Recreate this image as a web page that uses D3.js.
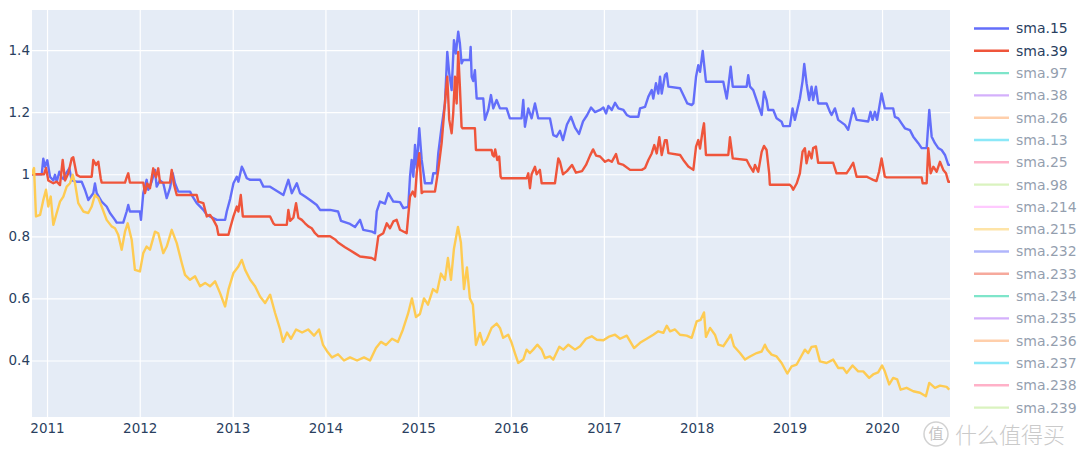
<!DOCTYPE html>
<html>
<head>
<meta charset="utf-8">
<script src="https://cdn.jsdelivr.net/npm/d3@7"></script>
<style>
  body { margin: 0; background: #fff; }
  svg { display: block; }
  svg text { font-family: "DejaVu Sans", Verdana, sans-serif; }
</style>
</head>
<body>
<svg id="chart" width="1080" height="455"></svg>
<script>
// values are [decimal year, value]
var sma15 = [
  [2010.838,1.0],[2010.943,1.0],[2010.960,1.05],[2010.978,1.024],[2011.003,1.045],[2011.032,0.992],
  [2011.068,0.98],[2011.086,0.998],[2011.105,0.976],[2011.133,1.008],[2011.158,0.99],[2011.176,0.985],
  [2011.194,0.998],[2011.240,1.019],[2011.266,0.98],[2011.320,0.976],[2011.374,0.976],[2011.409,0.95],
  [2011.445,0.917],[2011.499,0.939],[2011.517,0.97],[2011.536,0.939],[2011.589,0.912],[2011.643,0.896],
  [2011.679,0.875],[2011.733,0.853],[2011.751,0.844],[2011.822,0.844],[2011.859,0.88],[2011.876,0.901],
  [2011.894,0.88],[2012.002,0.88],[2012.013,0.853],[2012.038,0.939],[2012.074,0.982],[2012.092,0.95],
  [2012.128,0.976],[2012.164,1.014],[2012.182,0.96],[2012.218,0.98],[2012.253,0.971],[2012.290,0.923],
  [2012.325,0.955],[2012.355,1.003],[2012.379,0.971],[2012.415,0.944],[2012.541,0.944],[2012.559,0.933],
  [2012.613,0.907],[2012.684,0.885],[2012.721,0.869],[2012.829,0.853],[2012.918,0.853],[2012.936,0.88],
  [2012.972,0.92],[2013.008,0.971],[2013.044,0.992],[2013.061,0.976],[2013.098,1.024],[2013.115,1.014],
  [2013.152,0.987],[2013.188,0.982],[2013.295,0.982],[2013.331,0.96],[2013.403,0.96],[2013.546,0.933],
  [2013.600,0.982],[2013.637,0.939],[2013.691,0.971],[2013.726,0.939],[2013.780,0.928],[2013.834,0.917],
  [2013.906,0.901],[2013.942,0.885],[2014.050,0.885],[2014.136,0.88],[2014.168,0.85],[2014.265,0.84],
  [2014.319,0.83],[2014.373,0.853],[2014.408,0.821],[2014.502,0.815],[2014.535,0.81],[2014.553,0.88],
  [2014.588,0.912],[2014.642,0.905],[2014.678,0.939],[2014.732,0.912],[2014.804,0.91],[2014.840,0.891],
  [2014.893,0.895],[2014.912,0.992],[2014.930,1.046],[2014.948,0.992],[2014.966,1.094],[2014.984,1.02],
  [2015.012,1.148],[2015.038,1.046],[2015.073,0.971],[2015.146,0.971],[2015.163,1.003],[2015.200,1.003],
  [2015.217,1.068],[2015.253,1.153],[2015.289,1.228],[2015.314,1.394],[2015.335,1.325],[2015.361,1.271],
  [2015.386,1.432],[2015.407,1.389],[2015.432,1.459],[2015.450,1.421],[2015.468,1.357],[2015.486,1.368],
  [2015.558,1.368],[2015.566,1.41],[2015.577,1.314],[2015.594,1.30],[2015.612,1.335],[2015.631,1.244],
  [2015.702,1.244],[2015.720,1.175],[2015.756,1.207],[2015.785,1.255],[2015.810,1.212],[2015.846,1.239],
  [2015.882,1.212],[2015.954,1.212],[2015.989,1.18],[2016.115,1.18],[2016.133,1.239],[2016.151,1.153],
  [2016.187,1.212],[2016.223,1.18],[2016.259,1.228],[2016.294,1.18],[2016.420,1.18],[2016.456,1.126],
  [2016.492,1.121],[2016.528,1.14],[2016.560,1.11],[2016.603,1.16],[2016.646,1.185],[2016.690,1.15],
  [2016.733,1.13],[2016.776,1.17],[2016.819,1.19],[2016.862,1.215],[2016.905,1.2],[2016.959,1.207],
  [2016.995,1.215],[2017.024,1.196],[2017.049,1.22],[2017.085,1.207],[2017.121,1.23],[2017.157,1.212],
  [2017.211,1.207],[2017.247,1.191],[2017.283,1.185],[2017.372,1.185],[2017.390,1.212],[2017.444,1.217],
  [2017.480,1.25],[2017.516,1.271],[2017.533,1.244],[2017.562,1.293],[2017.587,1.26],[2017.606,1.314],
  [2017.624,1.26],[2017.659,1.319],[2017.678,1.325],[2017.696,1.282],[2017.822,1.277],[2017.857,1.255],
  [2017.900,1.228],[2017.947,1.223],[2017.965,1.228],[2017.994,1.314],[2018.018,1.351],[2018.037,1.33],
  [2018.066,1.397],[2018.080,1.357],[2018.101,1.298],[2018.288,1.298],[2018.306,1.271],[2018.325,1.244],
  [2018.342,1.282],[2018.368,1.346],[2018.390,1.282],[2018.540,1.282],[2018.557,1.319],[2018.576,1.282],
  [2018.611,1.271],[2018.665,1.223],[2018.702,1.191],[2018.727,1.266],[2018.755,1.239],[2018.773,1.207],
  [2018.827,1.207],[2018.863,1.18],[2018.917,1.169],[2018.934,1.155],[2019.006,1.155],[2019.035,1.212],
  [2019.060,1.175],[2019.114,1.244],[2019.143,1.30],[2019.161,1.355],[2019.186,1.293],[2019.214,1.239],
  [2019.240,1.282],[2019.257,1.239],[2019.287,1.282],[2019.311,1.228],[2019.402,1.228],[2019.438,1.201],
  [2019.456,1.191],[2019.492,1.212],[2019.527,1.175],[2019.600,1.159],[2019.635,1.143],[2019.689,1.212],
  [2019.726,1.175],[2019.851,1.17],[2019.876,1.201],[2019.898,1.175],[2019.923,1.201],[2019.947,1.175],
  [2019.995,1.26],[2020.030,1.212],[2020.120,1.212],[2020.138,1.185],[2020.174,1.18],[2020.210,1.164],
  [2020.246,1.148],[2020.300,1.142],[2020.336,1.121],[2020.390,1.1],[2020.426,1.084],[2020.480,1.084],
  [2020.508,1.207],[2020.534,1.121],[2020.569,1.1],[2020.605,1.084],[2020.641,1.078],[2020.677,1.062],
  [2020.713,1.03],[2020.731,1.03]
];

var sma39 = [
  [2010.838,1.0],[2010.968,1.0],[2010.989,1.02],[2011.014,0.98],[2011.068,0.971],[2011.105,0.976],
  [2011.140,0.965],[2011.169,1.046],[2011.194,0.98],[2011.230,1.003],[2011.266,1.051],[2011.283,1.055],
  [2011.320,0.998],[2011.356,0.992],[2011.482,0.992],[2011.499,1.046],[2011.528,1.03],[2011.553,1.04],
  [2011.579,0.987],[2011.589,0.973],[2011.841,0.973],[2011.859,0.99],[2011.876,1.003],[2011.894,0.973],
  [2012.038,0.973],[2012.056,0.939],[2012.081,0.97],[2012.110,0.955],[2012.145,1.019],[2012.175,0.99],
  [2012.199,1.019],[2012.218,0.973],[2012.325,0.973],[2012.344,1.014],[2012.369,0.966],[2012.398,0.933],
  [2012.613,0.933],[2012.630,0.912],[2012.684,0.907],[2012.721,0.864],[2012.756,0.869],[2012.792,0.853],
  [2012.829,0.832],[2012.846,0.805],[2012.954,0.805],[2012.972,0.826],[2013.008,0.864],[2013.044,0.896],
  [2013.061,0.88],[2013.087,0.933],[2013.109,0.864],[2013.403,0.864],[2013.438,0.842],[2013.457,0.837],
  [2013.583,0.837],[2013.600,0.885],[2013.619,0.85],[2013.654,0.86],[2013.683,0.907],[2013.708,0.86],
  [2013.745,0.853],[2013.780,0.842],[2013.816,0.832],[2013.852,0.826],[2013.888,0.81],[2013.924,0.8],
  [2014.050,0.8],[2014.104,0.79],[2014.136,0.78],[2014.211,0.765],[2014.265,0.755],[2014.319,0.745],
  [2014.373,0.735],[2014.499,0.73],[2014.535,0.724],[2014.570,0.8],[2014.624,0.81],[2014.661,0.842],
  [2014.696,0.826],[2014.732,0.848],[2014.768,0.853],[2014.804,0.821],[2014.876,0.81],[2014.912,0.928],
  [2014.941,0.944],[2014.966,0.928],[2014.984,1.003],[2015.012,1.068],[2015.038,0.939],[2015.056,0.944],
  [2015.181,0.944],[2015.217,1.014],[2015.253,1.1],[2015.300,1.271],[2015.314,1.314],[2015.335,1.175],
  [2015.361,1.132],[2015.378,1.196],[2015.397,1.314],[2015.415,1.228],[2015.432,1.394],[2015.450,1.282],
  [2015.468,1.153],[2015.479,1.148],[2015.612,1.148],[2015.623,1.078],[2015.792,1.078],[2015.802,1.062],
  [2015.817,1.057],[2015.831,1.08],[2015.853,1.046],[2015.874,1.057],[2015.889,0.992],[2015.900,0.987],
  [2016.169,0.987],[2016.187,1.003],[2016.205,0.955],[2016.223,1.0],[2016.259,1.024],[2016.277,1.0],
  [2016.312,1.014],[2016.331,0.971],[2016.474,0.971],[2016.510,1.051],[2016.528,1.04],[2016.560,1.0],
  [2016.603,1.01],[2016.657,1.03],[2016.700,1.005],[2016.765,1.01],[2016.808,1.03],[2016.851,1.06],
  [2016.884,1.08],[2016.916,1.06],[2016.959,1.057],[2017.013,1.04],[2017.049,1.046],[2017.085,1.04],
  [2017.131,1.065],[2017.157,1.035],[2017.211,1.03],[2017.283,1.014],[2017.409,1.014],[2017.444,1.02],
  [2017.480,1.046],[2017.516,1.067],[2017.544,1.094],[2017.570,1.067],[2017.598,1.119],[2017.624,1.062],
  [2017.659,1.11],[2017.678,1.11],[2017.696,1.068],[2017.822,1.062],[2017.857,1.046],[2017.911,1.025],
  [2017.965,1.014],[2017.994,1.089],[2018.018,1.11],[2018.037,1.083],[2018.066,1.142],[2018.080,1.164],
  [2018.101,1.062],[2018.342,1.062],[2018.360,1.119],[2018.390,1.051],[2018.540,1.046],[2018.576,1.025],
  [2018.611,1.008],[2018.630,1.03],[2018.665,1.008],[2018.702,1.072],[2018.727,1.091],[2018.755,1.078],
  [2018.783,1.003],[2018.790,0.966],[2019.006,0.966],[2019.025,0.96],[2019.042,0.95],[2019.079,0.97],
  [2019.114,1.003],[2019.143,1.073],[2019.168,1.084],[2019.186,1.035],[2019.214,1.073],[2019.240,1.051],
  [2019.257,1.084],[2019.287,1.089],[2019.311,1.037],[2019.473,1.037],[2019.509,1.003],[2019.617,1.003],
  [2019.653,1.019],[2019.689,1.037],[2019.726,0.992],[2019.833,0.992],[2019.869,0.987],[2019.904,0.982],
  [2019.940,0.978],[2019.968,1.008],[2019.995,1.051],[2020.030,0.992],[2020.049,0.99],[2020.426,0.99],
  [2020.437,0.971],[2020.480,0.971],[2020.497,1.084],[2020.523,1.003],[2020.552,1.024],[2020.588,1.008],
  [2020.623,1.04],[2020.659,1.014],[2020.688,1.003],[2020.713,0.976],[2020.731,0.976]
];

var sma215 = [
  [2010.835,1.0],[2010.860,1.02],[2010.881,0.864],[2010.925,0.869],[2010.960,0.917],[2010.989,0.95],
  [2011.014,0.896],[2011.040,0.928],[2011.068,0.837],[2011.105,0.876],[2011.140,0.912],[2011.176,0.928],
  [2011.212,0.96],[2011.248,0.971],[2011.277,0.998],[2011.302,0.971],[2011.337,0.907],[2011.391,0.88],
  [2011.445,0.875],[2011.482,0.896],[2011.517,0.933],[2011.553,0.923],[2011.589,0.896],[2011.643,0.853],
  [2011.697,0.832],[2011.733,0.826],[2011.768,0.805],[2011.805,0.757],[2011.841,0.815],[2011.870,0.842],
  [2011.913,0.789],[2011.948,0.692],[2012.002,0.687],[2012.038,0.746],[2012.074,0.767],[2012.110,0.757],
  [2012.164,0.815],[2012.199,0.81],[2012.253,0.746],[2012.290,0.767],[2012.344,0.821],[2012.398,0.778],
  [2012.452,0.714],[2012.487,0.676],[2012.541,0.66],[2012.595,0.671],[2012.649,0.639],[2012.703,0.65],
  [2012.756,0.639],[2012.810,0.655],[2012.864,0.617],[2012.918,0.574],[2012.954,0.628],[2013.008,0.682],
  [2013.061,0.703],[2013.098,0.724],[2013.134,0.692],[2013.188,0.66],[2013.241,0.639],[2013.295,0.606],
  [2013.349,0.585],[2013.403,0.612],[2013.457,0.553],[2013.511,0.50],[2013.543,0.46],[2013.586,0.49],
  [2013.629,0.47],[2013.683,0.50],[2013.748,0.49],[2013.813,0.50],[2013.877,0.48],[2013.931,0.50],
  [2013.974,0.45],[2014.017,0.43],[2014.071,0.41],[2014.136,0.42],[2014.200,0.40],[2014.265,0.41],
  [2014.341,0.40],[2014.416,0.41],[2014.481,0.40],[2014.545,0.44],[2014.599,0.46],[2014.653,0.45],
  [2014.718,0.47],[2014.782,0.46],[2014.836,0.50],[2014.890,0.55],[2014.933,0.60],[2014.976,0.54],
  [2015.019,0.55],[2015.063,0.60],[2015.106,0.58],[2015.160,0.63],[2015.203,0.62],[2015.246,0.68],
  [2015.289,0.66],[2015.321,0.73],[2015.354,0.66],[2015.386,0.76],[2015.429,0.83],[2015.461,0.78],
  [2015.494,0.63],[2015.526,0.70],[2015.558,0.60],[2015.590,0.58],[2015.623,0.45],[2015.644,0.47],
  [2015.666,0.489],[2015.702,0.451],[2015.738,0.467],[2015.792,0.505],[2015.846,0.519],[2015.882,0.505],
  [2015.917,0.473],[2015.971,0.483],[2016.008,0.457],[2016.043,0.424],[2016.079,0.392],[2016.133,0.403],
  [2016.169,0.435],[2016.205,0.424],[2016.240,0.435],[2016.284,0.451],[2016.331,0.435],[2016.367,0.408],
  [2016.420,0.413],[2016.456,0.403],[2016.521,0.444],[2016.564,0.435],[2016.618,0.451],[2016.690,0.435],
  [2016.744,0.446],[2016.808,0.47],[2016.870,0.478],[2016.924,0.467],[2016.995,0.465],[2017.049,0.476],
  [2017.121,0.483],[2017.175,0.47],[2017.247,0.48],[2017.326,0.44],[2017.390,0.457],[2017.462,0.47],
  [2017.533,0.483],[2017.587,0.494],[2017.641,0.489],[2017.678,0.512],[2017.714,0.494],[2017.767,0.5],
  [2017.821,0.483],[2017.893,0.48],[2017.947,0.473],[2018.001,0.526],[2018.044,0.531],[2018.080,0.555],
  [2018.101,0.476],[2018.145,0.505],[2018.198,0.483],[2018.234,0.451],[2018.288,0.446],[2018.342,0.47],
  [2018.368,0.483],[2018.403,0.446],[2018.468,0.424],[2018.522,0.403],[2018.576,0.413],[2018.648,0.424],
  [2018.702,0.429],[2018.737,0.451],[2018.762,0.435],[2018.809,0.419],[2018.863,0.413],[2018.917,0.392],
  [2018.978,0.358],[2019.025,0.381],[2019.079,0.387],[2019.133,0.416],[2019.168,0.435],[2019.204,0.424],
  [2019.240,0.444],[2019.287,0.446],[2019.330,0.397],[2019.402,0.392],[2019.473,0.403],[2019.527,0.376],
  [2019.581,0.376],[2019.618,0.36],[2019.682,0.384],[2019.743,0.365],[2019.797,0.365],[2019.861,0.344],
  [2019.904,0.355],[2019.958,0.362],[2020.001,0.384],[2020.030,0.365],[2020.077,0.323],[2020.120,0.344],
  [2020.163,0.339],[2020.200,0.306],[2020.264,0.312],[2020.336,0.301],[2020.408,0.296],[2020.472,0.285],
  [2020.508,0.328],[2020.569,0.312],[2020.623,0.319],[2020.695,0.315],[2020.723,0.306]
];

// legend order, colours (plotly defaults) and which traces are switched on
var legendNames = ['sma.15','sma.39','sma.97','sma.38','sma.26','sma.13','sma.25','sma.98','sma.214',
  'sma.215','sma.232','sma.233','sma.234','sma.235','sma.236','sma.237','sma.238','sma.239'];
var legendColors = ['#636efa','#EF553B','#00cc96','#ab63fa','#FFA15A','#19d3f3','#FF6692','#B6E880','#FF97FF',
  '#FECB52','#636efa','#EF553B','#00cc96','#ab63fa','#FFA15A','#19d3f3','#FF6692','#B6E880'];
var legendOn = ['sma.15','sma.39'];

var yTicks = [0.4, 0.6, 0.8, 1, 1.2, 1.4];
var xTickYears = [2011,2012,2013,2014,2015,2016,2017,2018,2019,2020];
var xRange = [2010.838, 2020.731];
var yRange = [0.218, 1.529];

var traces = [
  {name: 'sma.15', color: '#636efa', data: sma15},
  {name: 'sma.39', color: '#EF553B', data: sma39},
  {name: 'sma.215', color: '#FECB52', data: sma215}
];

function yearToDate(y) {
  var yr = Math.floor(y);
  var a = new Date(yr, 0, 1), b = new Date(yr + 1, 0, 1);
  return new Date(+a + (y - yr) * (b - a));
}

var FONT = '"DejaVu Sans", Verdana, sans-serif';
var svg = d3.select('#chart');
var plot = {left: 32, top: 10, right: 950, bottom: 417};

var x = d3.scaleTime()
  .domain(xRange.map(yearToDate))
  .range([plot.left, plot.right]);
var y = d3.scaleLinear()
  .domain(yRange)
  .range([plot.bottom, plot.top]);

svg.append('rect')
  .attr('x', plot.left).attr('y', plot.top)
  .attr('width', plot.right - plot.left).attr('height', plot.bottom - plot.top)
  .attr('fill', '#E5ECF6');

svg.append('clipPath').attr('id', 'clip')
  .append('rect')
  .attr('x', plot.left).attr('y', plot.top)
  .attr('width', plot.right - plot.left).attr('height', plot.bottom - plot.top);

// grid + axes
var xAxis = d3.axisBottom(x)
  .tickValues(xTickYears.map(function(d){ return new Date(d, 0, 1); }))
  .tickFormat(d3.timeFormat('%Y'))
  .tickSize(-(plot.bottom - plot.top))
  .tickPadding(6);
var gx = svg.append('g')
  .attr('transform', 'translate(0,' + plot.bottom + ')')
  .call(xAxis);

var yAxis = d3.axisLeft(y)
  .tickValues(yTicks)
  .tickFormat(d3.format('~g'))
  .tickSize(-(plot.right - plot.left))
  .tickPadding(2);
var gy = svg.append('g')
  .attr('transform', 'translate(' + plot.left + ',0)')
  .call(yAxis);

[gx, gy].forEach(function(g){
  g.attr('font-family', FONT).attr('font-size', 13.5);
  g.select('.domain').remove();
  g.selectAll('line').attr('stroke', '#fff').attr('stroke-width', 1.2);
  g.selectAll('text').attr('fill', '#2a3f5f');
});

// series
var line = d3.line()
  .x(function(d){ return x(yearToDate(d[0])); })
  .y(function(d){ return y(d[1]); });

svg.append('g').attr('clip-path', 'url(#clip)')
  .selectAll('path')
  .data(traces)
  .enter().append('path')
  .attr('d', function(d){ return line(d.data); })
  .attr('fill', 'none')
  .attr('stroke', function(d){ return d.color; })
  .attr('stroke-width', 2.4)
  .attr('stroke-linejoin', 'round');

// legend
var leg = svg.append('g').attr('transform', 'translate(974,28.5)')
  .attr('font-family', FONT).attr('font-size', 14);
var item = leg.selectAll('g')
  .data(legendNames)
  .enter().append('g')
  .attr('transform', function(d, i){ return 'translate(0,' + (i * 22.3) + ')'; })
  .attr('opacity', function(d){ return legendOn.indexOf(d) >= 0 ? 1 : 0.5; });
item.append('line')
  .attr('x1', 0).attr('x2', 35)
  .attr('stroke', function(d, i){ return legendColors[i]; })
  .attr('stroke-width', 2.4);
item.append('text')
  .attr('x', 42).attr('dy', '0.35em')
  .attr('fill', '#2a3f5f')
  .text(function(d){ return d; });

// site watermark
var wm = svg.append('g');
wm.append('circle').attr('cx', 936).attr('cy', 434).attr('r', 12)
  .attr('fill', 'rgba(255,255,255,0.6)').attr('stroke', '#d2d2d2').attr('stroke-width', 1.5);
wm.append('text').attr('x', 936).attr('y', 434).attr('dy', '0.36em')
  .attr('text-anchor', 'middle').attr('fill', '#c4c4c4')
  .style('font-family', '"Noto Sans CJK SC"').style('font-size', '15px').text('值');
wm.append('text').attr('x', 955).attr('y', 435).attr('dy', '0.36em')
  .attr('fill', '#cacaca')
  .style('font-family', '"Noto Sans CJK SC"').style('font-size', '22px').style('font-weight', 300)
  .text('什么值得买');
</script>
</body>
</html>
